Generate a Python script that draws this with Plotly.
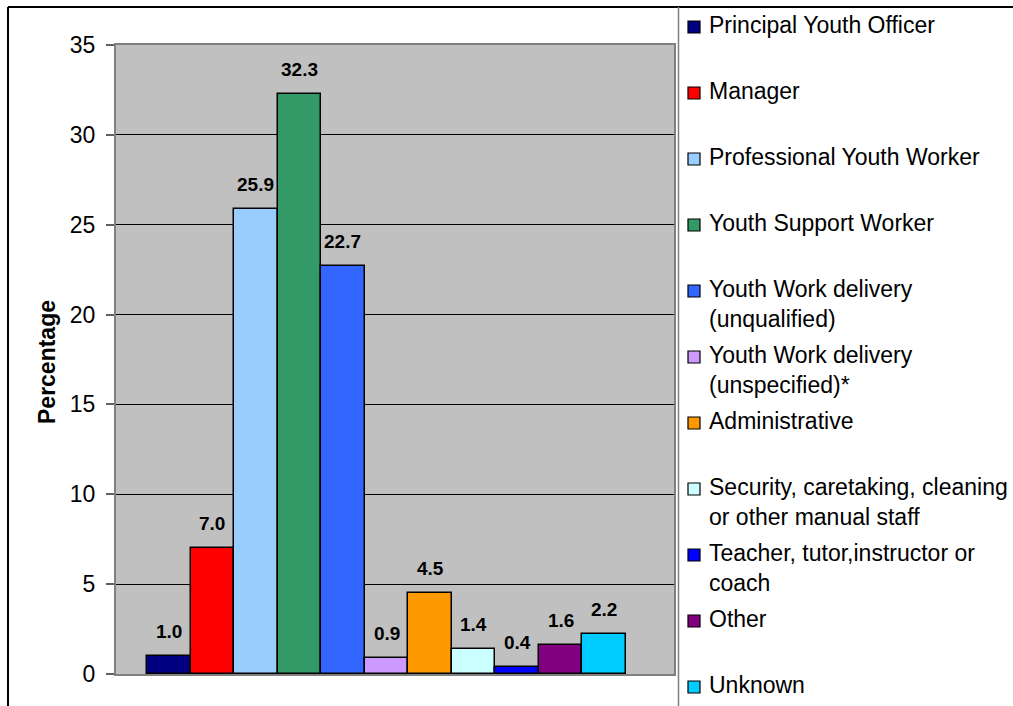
import plotly.graph_objects as go

# Staff roles and the share of the workforce in each (%)
roles = [
    "Principal Youth Officer",
    "Manager",
    "Professional Youth Worker",
    "Youth Support Worker",
    "Youth Work delivery (unqualified)",
    "Youth Work delivery (unspecified)*",
    "Administrative",
    "Security, caretaking, cleaning or other manual staff",
    "Teacher, tutor,instructor or coach",
    "Other",
    "Unknown",
]
legend_labels = [
    "Principal Youth Officer",
    "Manager",
    "Professional Youth Worker",
    "Youth Support Worker",
    "Youth Work delivery<br>(unqualified)",
    "Youth Work delivery<br>(unspecified)*",
    "Administrative",
    "Security, caretaking, cleaning<br>or other manual staff",
    "Teacher, tutor,instructor or<br>coach",
    "Other",
    "Unknown",
]
percentages = [1.0, 7.0, 25.9, 32.3, 22.7, 0.9, 4.5, 1.4, 0.4, 1.6, 2.2]
colors = [
    "#000080", "#FF0000", "#99CCFF", "#339966", "#3366FF", "#CC99FF",
    "#FF9900", "#CCFFFF", "#0000FF", "#800080", "#00CCFF",
]
y_ticks = [0, 5, 10, 15, 20, 25, 30, 35]

FONT = "Liberation Sans, Arial, sans-serif"
W, H = 1013, 706
PL, PR, PT, PB = 116, 674, 45, 674  # plot-area edges in pixels


def fx(p):
    return (p - PL) / (PR - PL)


def fy(p):
    return (PB - p) / (PB - PT)


fig = go.Figure()
for role, val, col in zip(roles, percentages, colors):
    fig.add_trace(go.Bar(
        x=[role], y=[val], name=role,
        marker=dict(color=col, line=dict(color="#000000", width=1.5)),
        showlegend=False, hoverinfo="x+y",
    ))

annotations = []
# value labels above each bar
for role, val in zip(roles, percentages):
    annotations.append(dict(
        x=role, y=val, xref="x", yref="y", text=f"<b>{val:.1f}</b>",
        showarrow=False, yanchor="bottom", yshift=12,
        font=dict(family=FONT, size=19, color="#000000"),
    ))

# y-axis title
annotations.append(dict(
    x=fx(47), y=fy(362), xref="paper", yref="paper", text="<b>Percentage</b>",
    textangle=-90, showarrow=False, xanchor="center", yanchor="middle",
    font=dict(family=FONT, size=23, color="#000000"),
))

shapes = []
# legend: coloured key plus wrapped label, one row every 66 px
for i, (lab, col) in enumerate(zip(legend_labels, colors)):
    cy = 25 + 66 * i
    shapes.append(dict(
        type="rect", xref="paper", yref="paper",
        x0=fx(688), x1=fx(700), y0=fy(cy + 8), y1=fy(cy - 4),
        fillcolor=col, line=dict(color="#000000", width=1.2),
    ))
    annotations.append(dict(
        x=fx(707), y=fy(cy - 15), xref="paper", yref="paper", text=lab,
        showarrow=False, xanchor="left", yanchor="top", align="left",
        font=dict(family=FONT, size=23, color="#000000"),
    ))

# outer chart frame and legend divider
shapes.append(dict(type="line", xref="paper", yref="paper",
                   x0=fx(8), x1=fx(W + 5), y0=fy(7), y1=fy(7),
                   line=dict(color="#000000", width=2)))
shapes.append(dict(type="line", xref="paper", yref="paper",
                   x0=fx(8), x1=fx(8), y0=fy(7), y1=fy(H + 5),
                   line=dict(color="#000000", width=2)))
shapes.append(dict(type="line", xref="paper", yref="paper",
                   x0=fx(678.5), x1=fx(678.5), y0=fy(7), y1=fy(H + 5),
                   line=dict(color="#808080", width=1.5)))

fig.update_layout(
    width=W, height=H,
    margin=dict(l=PL, r=W - PR, t=PT, b=H - PB, pad=0),
    paper_bgcolor="#FFFFFF", plot_bgcolor="#C0C0C0",
    barmode="overlay", bargap=0,
    font=dict(family=FONT, size=21, color="#000000"),
    annotations=annotations, shapes=shapes,
    showlegend=False,
)
fig.update_xaxes(
    type="category", categoryorder="array", categoryarray=roles,
    range=[-1.212, 11.602], showticklabels=False, ticks="",
    showgrid=False, showline=True, linecolor="#808080", linewidth=2, mirror=True,
    zeroline=False,
)
fig.update_yaxes(
    range=[0, 35], tickvals=y_ticks, ticktext=[str(v) for v in y_ticks],
    ticks="outside", ticklen=8, tickcolor="#606060", tickwidth=1.5,
    ticklabelstandoff=6,
    tickfont=dict(family=FONT, size=23, color="#000000"),
    showgrid=True, gridcolor="#000000", gridwidth=1,
    showline=True, linecolor="#808080", linewidth=2, mirror=True,
    zeroline=False,
)

fig.write_html("out.html")
